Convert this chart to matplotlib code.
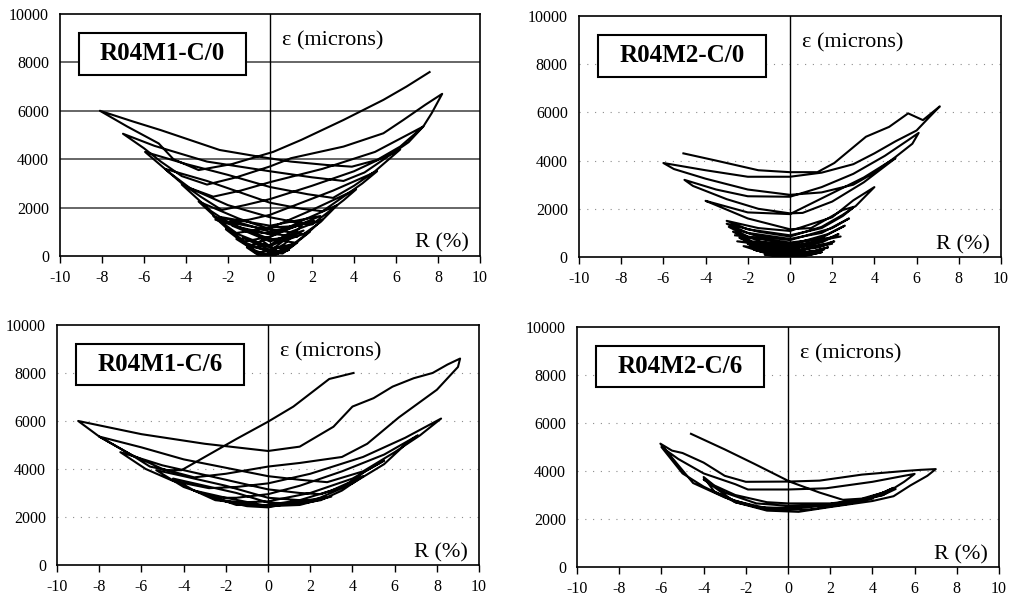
import matplotlib.pyplot as plt
from matplotlib.patches import Rectangle

plt.rcParams['font.family'] = ['Liberation Serif', 'DejaVu Serif']
plt.rcParams['axes.unicode_minus'] = False

x_ticks = list(range(-10, 11, 2))
y_ticks = list(range(0, 10001, 2000))
titles = ['R04M1-C/0', 'R04M2-C/0', 'R04M1-C/6', 'R04M2-C/6']

# (R %, strain microns), outer cycles first
tl_path = [
    (7.6, 7600), (6.5, 7000), (5.4, 6450), (3.5, 5620), (1.5, 4800), (0.15, 4300), (-1.8, 3800), (-3.4, 3550),
    (-4.6, 4000), (-5.3, 4650), (-6.8, 5350), (-8.1, 6000),
    (-6.5, 5550), (-5.2, 5200), (-2.4, 4380), (-0.5, 4100), (1.0, 3900), (2.7, 3760), (3.9, 3690),
    (5.1, 3970), (6.2, 4520), (7.3, 5350), (7.7, 5900), (8.2, 6700),
    (7.4, 6250), (6.35, 5620), (5.4, 5070), (3.5, 4520), (1.0, 4040), (0, 3700), (-1.6, 3250), (-3.0, 2950),
    (-4.2, 3300), (-5.2, 3900), (-6.0, 4450), (-7.0, 5050),
    (-5.5, 4550), (-3.0, 3900), (0, 3500), (2.0, 3250), (3.5, 3100),
    (4.5, 3450), (5.6, 4100), (6.6, 4700), (7.3, 5350),
    (5.0, 4300), (2.5, 3600), (0, 3050), (-1.4, 2700), (-2.7, 2450),
    (-3.8, 2800), (-4.8, 3450), (-5.95, 4300),
    (-4.0, 3800), (-2.0, 3350), (0, 2850), (1.8, 2550), (3.0, 2400),
    (4.0, 2900), (5.0, 3500), (6.2, 4400),
    (4.0, 3500), (2.0, 2900), (0, 2350), (-1.2, 2100), (-2.3, 1900),
    (-3.3, 2450), (-4.2, 3000), (-5.0, 3600),
    (-3.0, 3100), (0, 2200), (1.5, 1950), (2.5, 1850),
    (3.5, 2450), (4.4, 3000), (5.1, 3500),
    (3.0, 2700), (0, 1700), (-1.0, 1500), (-2.0, 1400),
    (-2.8, 1850), (-3.5, 2400), (-4.2, 2950),
    (-2.0, 2100), (0, 1600), (1.2, 1400), (2.0, 1300),
    (2.9, 1900), (3.5, 2300), (4.1, 2750),
    (2.0, 1900), (0, 1150), (-1.6, 950),
    (-2.4, 1450), (-3.4, 2250),
    (-1.5, 1550), (0, 1100), (1.6, 900),
    (2.4, 1400), (3.2, 2100),
    (1.5, 1450), (0, 800), (-1.2, 600),
    (-2.0, 1100), (-2.7, 1650),
    (-1.2, 1100), (0, 700), (1.2, 550),
    (1.8, 950), (2.5, 1500),
    (1.0, 1000), (0, 450), (-0.9, 350),
    (-1.5, 700), (-2.1, 1100),
    (-0.8, 650), (0, 350), (0.9, 300),
    (1.4, 650), (1.9, 1000),
    (0.6, 600), (0, 200), (-0.6, 150),
    (-1.6, 700), (0, 150), (0.6, 100), (1.3, 550),
    (0, 50), (-0.5, 0), (-1.1, 350), (0, 0), (0.9, 250), (0, 0), (-0.7, 150), (0.2, 0),
    (1.1, 500), (0, 250), (-1.3, 750), (0, 400), (1.6, 1050), (0, 600), (-1.8, 1250),
    (0, 900), (2.1, 1450), (0, 1000), (-2.3, 1600), (0, 1250), (2.4, 1650), (0.3, 900),
    (-1.0, 400), (0.4, 150), (-0.4, 650), (1.3, 800), (-0.8, 1000), (-2.6, 1500),
    (-0.5, 1150), (1.5, 1250), (0.7, 500), (-0.3, 0),
]

tr_path = [
    (-5.05, 4300), (-3.5, 4000), (-1.5, 3600), (0, 3520), (1.3, 3520), (2.1, 3900), (3.6, 4990),
    (4.7, 5400), (5.6, 5960), (6.3, 5680), (7.1, 6250),
    (6.6, 5800), (6.0, 5250), (5.0, 4800), (4.0, 4300), (3.0, 3850), (1.5, 3500), (0, 3330),
    (-2.0, 3330), (-4.0, 3600), (-6.0, 3900),
    (-5.5, 3650), (-4.0, 3250), (-2.0, 2800), (0, 2580), (1.5, 2680), (3.0, 3000), (4.0, 3500),
    (5.0, 4150), (5.8, 4700), (6.1, 5150),
    (5.6, 4850), (4.5, 4200), (3.0, 3450), (1.5, 2900), (0, 2500), (-2.0, 2520), (-3.5, 2800), (-5.0, 3200),
    (-4.6, 2950), (-3.0, 2400), (-1.5, 2000), (0, 1810), (0.6, 1830), (2.0, 2300), (3.5, 3100), (5.0, 4100),
    (4.6, 3900), (3.5, 3300), (2.0, 2650), (0, 1780), (-2.0, 1850), (-4.0, 2330),
    (-3.5, 2150), (-2.0, 1600), (0, 1150), (1.0, 1200), (2.5, 1950), (3.1, 2100), (4.0, 2900),
    (3.0, 2350), (2.0, 1650), (0, 1080), (-1.5, 1200), (-3.0, 1500),
    (-2.0, 1150), (0, 900), (1.5, 1200), (2.5, 1700), (3.0, 2050),
    (2.5, 1750), (1.5, 1250), (0, 850), (-1.5, 1050), (-3.0, 1380),
    (-2.0, 1000), (0, 750), (1.5, 1000), (2.8, 1600),
    (2.0, 1200), (0, 700), (-1.5, 850), (-2.9, 1250),
    (-2.0, 850), (0, 550), (1.5, 800), (2.6, 1300),
    (1.8, 950), (0, 500), (-1.4, 650), (-2.7, 1050),
    (-1.8, 650), (0, 400), (1.5, 600), (2.3, 950),
    (1.5, 650), (0, 300), (-1.3, 450), (-2.4, 800),
    (-1.5, 450), (0, 250), (1.4, 400), (2.1, 650),
    (1.3, 450), (0, 150), (-1.2, 300), (-2.0, 550),
    (-1.2, 250), (0, 100), (1.2, 250), (1.8, 400),
    (1.0, 200), (0, 50), (-1.0, 150), (-1.7, 300),
    (-0.8, 100), (0, 0), (1.0, 100), (1.5, 200), (0.5, 0), (-1.2, 100), (-0.5, 0),
    (-1.6, 350), (0, 150), (1.6, 300), (0.5, 50), (-1.3, 200), (-2.2, 450), (0, 200),
    (2.0, 550), (0, 350), (-2.5, 650), (0, 450), (2.4, 850), (0, 600), (-2.6, 900),
]

bl_path = [
    (4.05, 8000), (2.9, 7750), (1.2, 6600), (0, 5970), (-1.5, 5250), (-3.0, 4500), (-4.1, 3950),
    (-4.8, 3950), (-5.6, 4100), (-6.5, 4600), (-8.0, 5350), (-9.0, 6000),
    (-6.0, 5450), (-3.0, 5050), (0, 4750), (1.5, 4930), (3.1, 5760), (4.0, 6600), (5.0, 6950),
    (5.9, 7430), (6.9, 7780), (7.8, 8000), (8.5, 8350), (9.1, 8600),
    (9.0, 8250), (8.0, 7300), (6.2, 6150), (4.7, 5050), (3.5, 4500), (1.5, 4250), (0, 4100),
    (-2.0, 3800), (-3.5, 3650),
    (-5.0, 4000), (-6.5, 4600), (-8.0, 5350),
    (-6.0, 4900), (-4.0, 4400), (0, 3700), (1.5, 3550), (2.8, 3450),
    (4.5, 3900), (6.0, 4700), (7.2, 5400), (8.2, 6100),
    (6.5, 5300), (4.5, 4500), (2.0, 3800), (0, 3400), (-1.5, 3250), (-2.8, 3200),
    (-4.5, 3500), (-5.8, 4000), (-7.0, 4700),
    (-5.0, 4150), (-3.0, 3750), (0, 3150), (1.5, 3000), (2.5, 2950),
    (4.0, 3400), (5.5, 4200), (6.6, 5100), (7.1, 5400),
    (5.5, 4600), (3.5, 3900), (1.5, 3300), (0, 2950), (-1.5, 2800), (-2.5, 2800),
    (-4.0, 3250), (-5.3, 3950),
    (-4.0, 3700), (-2.0, 3300), (0, 2800), (1.5, 2700), (2.2, 2700),
    (3.5, 3200), (4.6, 3900), (5.5, 4350),
    (4.0, 3600), (2.0, 3000), (0, 2650), (-1.5, 2600), (-2.5, 2700),
    (-3.5, 3100), (-4.5, 3600),
    (-3.0, 3300), (-1.5, 3000), (0, 2600), (1.5, 2550), (2.5, 2700),
    (3.5, 3100), (4.5, 3700),
    (3.0, 3100), (1.5, 2700), (0, 2500), (-1.5, 2500), (-3.5, 3100),
    (-2.0, 2800), (0, 2450), (1.5, 2500), (3.0, 2850),
    (1.5, 2650), (0, 2400), (-1.0, 2450), (-2.5, 2750),
    (-1.0, 2550), (0, 2450), (1.8, 2600), (2.3, 2750),
]

br_path = [
    (-4.6, 5550), (-3.0, 4900), (-1.6, 4300), (0.1, 3550), (1.5, 3100), (2.6, 2800), (3.5, 2850),
    (4.5, 3100), (5.0, 3300),
    (4.0, 2900), (2.0, 2600), (0, 2450), (-1.5, 2500), (-3.0, 2900), (-4.5, 3500), (-6.05, 5140),
    (-5.5, 4850), (-5.0, 4750), (-4.0, 4350), (-3.0, 3800), (-2.0, 3550), (0, 3560), (1.5, 3600),
    (3.5, 3850), (5.5, 4000), (6.3, 4050), (7.0, 4080),
    (6.6, 3800), (5.8, 3400), (5.0, 2950), (4.0, 2750), (2.0, 2500), (0.5, 2300), (-1.0, 2350),
    (-2.5, 2700), (-4.0, 3350), (-5.0, 3900), (-6.0, 5000),
    (-5.2, 4500), (-4.0, 3900), (-2.5, 3450), (-1.9, 3230), (0, 3230), (1.8, 3280), (4.0, 3550),
    (5.5, 3800), (6.0, 3880),
    (5.5, 3550), (4.5, 3000), (3.0, 2750), (1.0, 2500), (-1.0, 2450), (-2.5, 2750), (-3.5, 3150), (-4.0, 3750),
    (-3.5, 3400), (-2.5, 3000), (-1.0, 2700), (0, 2650), (2.0, 2650), (3.5, 2800), (4.5, 3100), (5.1, 3250),
    (4.5, 3000), (3.0, 2650), (1.0, 2400), (-1.0, 2400), (-2.5, 2700), (-4.0, 3650),
    (-3.0, 3100), (-1.5, 2650), (0, 2550), (2.5, 2600), (4.0, 2850),
]

panels = [
    (tl_path, titles[0], [0.0591, 0.5748, 0.4138, 0.4020], 'solid'),
    (tr_path, titles[1], [0.5704, 0.5731, 0.4158, 0.4003], 'dotted'),
    (bl_path, titles[2], [0.0562, 0.0615, 0.4158, 0.3987], 'dotted'),
    (br_path, titles[3], [0.5685, 0.0581, 0.4158, 0.3987], 'dotted'),
]

fig = plt.figure(figsize=(10.15, 6.02), dpi=100)

for path, title, rect, grid in panels:
    ax = fig.add_axes(rect)
    r = [p[0] for p in path]
    e = [p[1] for p in path]

    for y in y_ticks[1:-1]:
        if grid == 'solid':
            ax.axhline(y, color='0.3', lw=1.2, zorder=1)
        else:
            ax.axhline(y, color='0.55', lw=0.8, ls=(0, (1, 6)), zorder=1)
    ax.axvline(0, color='black', lw=1.0, zorder=2)

    ax.plot(r, e, color='black', lw=1.5, zorder=3)

    ax.set_xlim(-10, 10)
    ax.set_ylim(0, 10000)
    ax.set_xticks(x_ticks)
    ax.set_yticks(y_ticks)
    ax.tick_params(axis='x', direction='out', length=5, width=1, pad=5, labelsize=11.5)
    ax.tick_params(axis='y', length=0, pad=8, labelsize=11.5)
    for s in ax.spines.values():
        s.set_linewidth(1.2)

    ax.add_patch(Rectangle((-9.1, 7480), 7.95, 1740, fill=True, fc='white',
                           ec='black', lw=1.5, zorder=4))
    ax.text(-5.12, 8350, title, ha='center', va='center', fontsize=18,
            fontweight='bold', zorder=5)
    ax.text(0.55, 8700, 'ε (microns)', ha='left', va='baseline', fontsize=16, zorder=5)
    ax.text(9.45, 330, 'R (%)', ha='right', va='baseline', fontsize=16, zorder=5)

fig.savefig('out.png', dpi=100)
plt.close()
